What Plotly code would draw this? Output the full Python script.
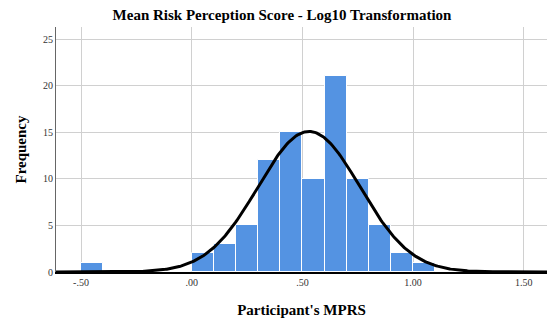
import numpy as np
import plotly.graph_objects as go

bin_left = [-0.5, 0.0, 0.1, 0.2, 0.3, 0.4, 0.5, 0.6, 0.7, 0.8, 0.9, 1.0]
counts = [1, 2, 3, 5, 12, 15, 10, 21, 10, 5, 2, 1]
bin_width = 0.1
curve_mean = 0.53
curve_sd = 0.23
n_total = sum(counts)
x_ticks = [-0.5, 0.0, 0.5, 1.0, 1.5]
x_tick_labels = ["-.50", ".00", ".50", "1.00", "1.50"]
y_ticks = [0, 5, 10, 15, 20, 25]

x_range = [-0.613, 1.605]
y_range = [0, 26.3]

centers = [b + bin_width / 2 for b in bin_left]
xs = np.linspace(x_range[0], x_range[1], 400)
ys = n_total * bin_width / (curve_sd * np.sqrt(2 * np.pi)) * np.exp(-0.5 * ((xs - curve_mean) / curve_sd) ** 2)

fig = go.Figure()
fig.add_trace(go.Bar(x=centers, y=counts, width=bin_width,
                     marker=dict(color="rgb(84,147,226)", line=dict(color="white", width=1)),
                     hoverinfo="skip"))
fig.add_trace(go.Scatter(x=xs, y=ys, mode="lines", line=dict(color="black", width=3),
                         hoverinfo="skip"))

serif = "Liberation Serif"
fig.update_layout(
    width=550, height=318,
    margin=dict(l=56, r=3, t=27, b=46),
    paper_bgcolor="white", plot_bgcolor="white",
    showlegend=False, bargap=0,
    font=dict(family=serif, color="#222"),
    title=dict(text="<b>Mean Risk Perception Score - Log10 Transformation</b>",
               x=282/550, xanchor="center", xref="container", y=1 - 15/318, yanchor="middle",
               font=dict(family=serif, size=15, color="black")),
)
fig.update_xaxes(range=x_range, tickvals=x_ticks, ticktext=x_tick_labels,
                 showgrid=True, gridcolor="#d0d0d0", gridwidth=1,
                 showline=True, linecolor="black", linewidth=2,
                 zeroline=False, ticks="", tickfont=dict(family=serif, size=10, color="#333"),
                 title=dict(text="<b>Participant's MPRS</b>", font=dict(family=serif, size=15, color="black"),
                            standoff=17))
fig.update_yaxes(range=y_range, tickvals=y_ticks,
                 showgrid=True, gridcolor="#d0d0d0", gridwidth=1,
                 showline=True, linecolor="#666", linewidth=1,
                 zeroline=False, ticks="", tickfont=dict(family=serif, size=10, color="#333"),
                 title=dict(text="<b>Frequency</b>", font=dict(family=serif, size=15, color="black"),
                            standoff=12))

fig.write_html("out.html", config={"displayModeBar": False},
               post_script="document.body.style.margin='0';")
